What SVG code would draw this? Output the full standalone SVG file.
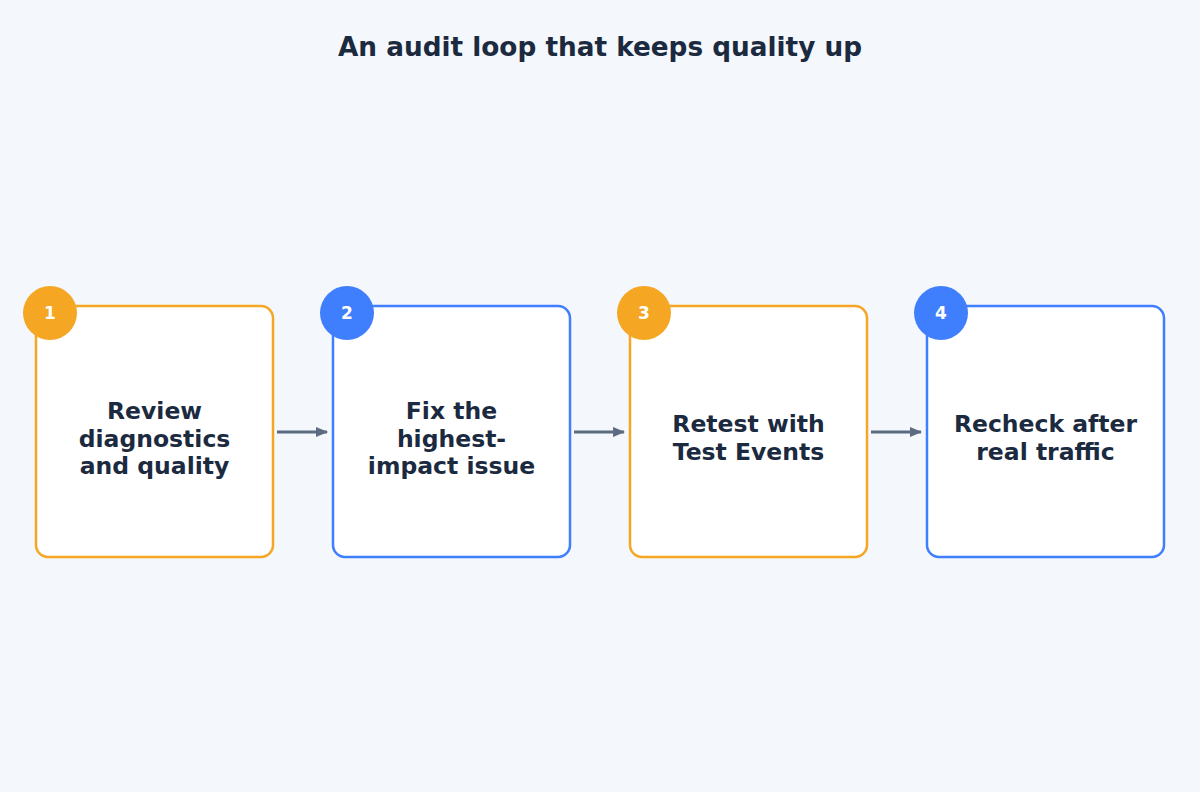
<svg xmlns="http://www.w3.org/2000/svg" width="1200" height="792" viewBox="0 0 1200 792">
<style>
text{font-family:"DejaVu Sans",sans-serif;font-weight:bold;text-anchor:middle}
.t{fill:#1b2a3f;font-size:23.5px}
.n{fill:#fff;font-size:17px}
.box{fill:#fff;stroke-width:2.5}
.o{stroke:#f5a623}.b{stroke:#3f7efc}
.co{fill:#f5a623}.cb{fill:#3f7efc}
.c{stroke:#5a6b82;stroke-width:3;fill:none}
</style>
<defs><marker id="a" markerWidth="12" markerHeight="12" refX="11" refY="6" orient="auto" markerUnits="userSpaceOnUse"><path d="M0,1L12,6L0,11z" fill="#5a6b82"/></marker></defs>
<rect width="1200" height="792" fill="#f4f7fb"/>
<text x="600" y="56" style="font-size:26.3px;fill:#1b2a3f">An audit loop that keeps quality up</text>
<g id="connectors">
<path class="c" d="M277,432H327" marker-end="url(#a)"/>
<path class="c" d="M574,432H624" marker-end="url(#a)"/>
<path class="c" d="M871,432H921" marker-end="url(#a)"/>
</g>
<g id="n1"><rect class="box o" x="36" y="306" width="237" height="251" rx="12"/><circle class="co" cx="50" cy="313" r="27"/><text class="n" x="50" y="319">1</text>
<text class="t" x="154.5" y="419">Review</text><text class="t" x="154.5" y="446.5">diagnostics</text><text class="t" x="154.5" y="474">and quality</text></g>
<g id="n2"><rect class="box b" x="333" y="306" width="237" height="251" rx="12"/><circle class="cb" cx="347" cy="313" r="27"/><text class="n" x="347" y="319">2</text>
<text class="t" x="451.5" y="419">Fix the</text><text class="t" x="451.5" y="446.5">highest-</text><text class="t" x="451.5" y="474">impact issue</text></g>
<g id="n3"><rect class="box o" x="630" y="306" width="237" height="251" rx="12"/><circle class="co" cx="644" cy="313" r="27"/><text class="n" x="644" y="319">3</text>
<text class="t" x="748.5" y="432">Retest with</text><text class="t" x="748.5" y="460">Test Events</text></g>
<g id="n4"><rect class="box b" x="927" y="306" width="237" height="251" rx="12"/><circle class="cb" cx="941" cy="313" r="27"/><text class="n" x="941" y="319">4</text>
<text class="t" x="1045.5" y="432">Recheck after</text><text class="t" x="1045.5" y="460">real traffic</text></g>
</svg>
